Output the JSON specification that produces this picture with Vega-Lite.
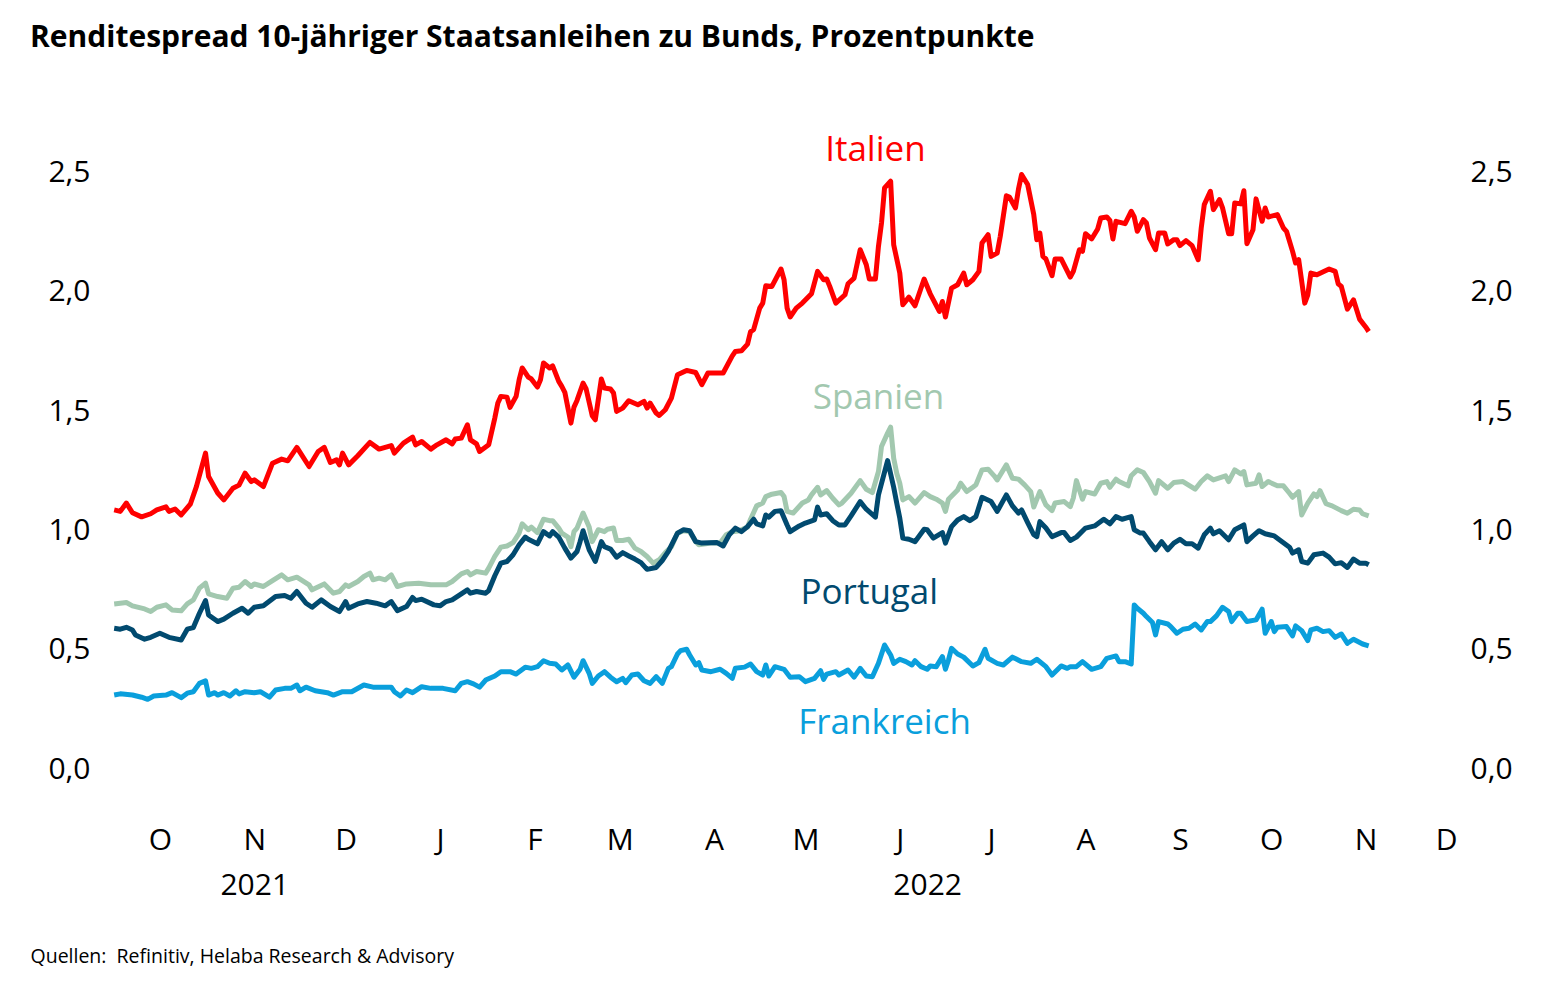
{
"$schema": "https://vega.github.io/schema/vega-lite/v6.json",
"width": 1355,
"height": 656,
"autosize": {"type": "none"},
"padding": {"left": 102, "top": 113, "right": 88, "bottom": 223},
"background": "white",
"config": {"view": {"stroke": null}, "font": "Open Sans", "axis": {"grid": false, "domain": false, "ticks": false, "tickSize": 0, "labelFont": "Open Sans", "labelFontSize": 30, "labelColor": "#000000"}},
"title": {"text": "Renditespread 10-jähriger Staatsanleihen zu Bunds, Prozentpunkte", "anchor": "start", "frame": "group", "dx": -72, "offset": 36, "baseline": "alphabetic", "fontSize": 30, "fontWeight": "bold", "font": "Open Sans", "color": "#000000"},
"datasets": {
"it": [
{"d":"2021-09-16","v":1.086},{"d":"2021-09-18","v":1.08},{"d":"2021-09-20","v":1.115},{"d":"2021-09-22","v":1.074},{"d":"2021-09-25","v":1.057},{"d":"2021-09-28","v":1.07},{"d":"2021-09-30","v":1.086},{"d":"2021-10-03","v":1.099},{"d":"2021-10-04","v":1.08},{"d":"2021-10-06","v":1.09},{"d":"2021-10-08","v":1.065},{"d":"2021-10-11","v":1.11},{"d":"2021-10-13","v":1.184},{"d":"2021-10-16","v":1.324},{"d":"2021-10-17","v":1.226},{"d":"2021-10-20","v":1.157},{"d":"2021-10-22","v":1.128},{"d":"2021-10-25","v":1.177},{"d":"2021-10-27","v":1.19},{"d":"2021-10-29","v":1.24},{"d":"2021-10-31","v":1.205},{"d":"2021-11-01","v":1.212},{"d":"2021-11-04","v":1.184},{"d":"2021-11-07","v":1.282},{"d":"2021-11-10","v":1.299},{"d":"2021-11-12","v":1.292},{"d":"2021-11-15","v":1.348},{"d":"2021-11-19","v":1.268},{"d":"2021-11-22","v":1.331},{"d":"2021-11-24","v":1.348},{"d":"2021-11-26","v":1.285},{"d":"2021-11-28","v":1.296},{"d":"2021-11-29","v":1.275},{"d":"2021-11-30","v":1.324},{"d":"2021-12-02","v":1.275},{"d":"2021-12-05","v":1.313},{"d":"2021-12-09","v":1.369},{"d":"2021-12-12","v":1.341},{"d":"2021-12-16","v":1.356},{"d":"2021-12-17","v":1.324},{"d":"2021-12-20","v":1.366},{"d":"2021-12-23","v":1.391},{"d":"2021-12-24","v":1.359},{"d":"2021-12-26","v":1.373},{"d":"2021-12-29","v":1.341},{"d":"2021-12-31","v":1.359},
{"d":"2022-01-03","v":1.38},{"d":"2022-01-05","v":1.363},{"d":"2022-01-06","v":1.383},{"d":"2022-01-08","v":1.387},{"d":"2022-01-10","v":1.443},{"d":"2022-01-11","v":1.38},{"d":"2022-01-13","v":1.363},{"d":"2022-01-14","v":1.331},{"d":"2022-01-17","v":1.359},{"d":"2022-01-19","v":1.471},{"d":"2022-01-20","v":1.534},{"d":"2022-01-21","v":1.562},{"d":"2022-01-23","v":1.559},{"d":"2022-01-24","v":1.516},{"d":"2022-01-26","v":1.562},{"d":"2022-01-27","v":1.632},{"d":"2022-01-28","v":1.681},{"d":"2022-01-30","v":1.643},{"d":"2022-01-31","v":1.635},
{"d":"2022-02-02","v":1.601},{"d":"2022-02-03","v":1.632},{"d":"2022-02-04","v":1.702},{"d":"2022-02-06","v":1.681},{"d":"2022-02-07","v":1.69},{"d":"2022-02-09","v":1.625},{"d":"2022-02-10","v":1.604},{"d":"2022-02-11","v":1.579},{"d":"2022-02-13","v":1.45},{"d":"2022-02-14","v":1.517},{"d":"2022-02-15","v":1.545},{"d":"2022-02-17","v":1.618},{"d":"2022-02-18","v":1.593},{"d":"2022-02-20","v":1.481},{"d":"2022-02-21","v":1.464},{"d":"2022-02-23","v":1.635},{"d":"2022-02-24","v":1.597},{"d":"2022-02-26","v":1.593},{"d":"2022-02-27","v":1.576},{"d":"2022-02-28","v":1.499},
{"d":"2022-03-02","v":1.513},{"d":"2022-03-04","v":1.544},{"d":"2022-03-07","v":1.527},{"d":"2022-03-09","v":1.541},{"d":"2022-03-10","v":1.513},{"d":"2022-03-11","v":1.534},{"d":"2022-03-13","v":1.492},{"d":"2022-03-14","v":1.482},{"d":"2022-03-16","v":1.506},{"d":"2022-03-18","v":1.555},{"d":"2022-03-20","v":1.653},{"d":"2022-03-23","v":1.671},{"d":"2022-03-26","v":1.662},{"d":"2022-03-28","v":1.611},{"d":"2022-03-30","v":1.66},
{"d":"2022-04-04","v":1.66},{"d":"2022-04-07","v":1.732},{"d":"2022-04-08","v":1.75},{"d":"2022-04-10","v":1.753},{"d":"2022-04-12","v":1.781},{"d":"2022-04-13","v":1.834},{"d":"2022-04-14","v":1.842},{"d":"2022-04-16","v":1.932},{"d":"2022-04-17","v":1.953},{"d":"2022-04-18","v":2.026},{"d":"2022-04-20","v":2.023},{"d":"2022-04-23","v":2.096},{"d":"2022-04-24","v":2.051},{"d":"2022-04-25","v":1.932},{"d":"2022-04-26","v":1.895},{"d":"2022-04-28","v":1.932},{"d":"2022-04-30","v":1.953},
{"d":"2022-05-03","v":1.992},{"d":"2022-05-05","v":2.086},{"d":"2022-05-07","v":2.051},{"d":"2022-05-08","v":2.054},{"d":"2022-05-09","v":2.023},{"d":"2022-05-11","v":1.953},{"d":"2022-05-14","v":1.988},{"d":"2022-05-15","v":2.034},{"d":"2022-05-17","v":2.058},{"d":"2022-05-19","v":2.177},{"d":"2022-05-21","v":2.114},{"d":"2022-05-22","v":2.054},{"d":"2022-05-24","v":2.054},{"d":"2022-05-25","v":2.191},{"d":"2022-05-26","v":2.289},{"d":"2022-05-27","v":2.436},{"d":"2022-05-29","v":2.464},{"d":"2022-05-30","v":2.198},
{"d":"2022-06-01","v":2.079},{"d":"2022-06-02","v":1.946},{"d":"2022-06-04","v":1.978},{"d":"2022-06-06","v":1.942},{"d":"2022-06-09","v":2.054},{"d":"2022-06-11","v":1.992},{"d":"2022-06-14","v":1.918},{"d":"2022-06-15","v":1.96},{"d":"2022-06-16","v":1.895},{"d":"2022-06-18","v":2.016},{"d":"2022-06-20","v":2.03},{"d":"2022-06-22","v":2.079},{"d":"2022-06-23","v":2.03},{"d":"2022-06-25","v":2.051},{"d":"2022-06-27","v":2.086},{"d":"2022-06-28","v":2.205},{"d":"2022-06-30","v":2.24},
{"d":"2022-07-01","v":2.149},{"d":"2022-07-03","v":2.163},{"d":"2022-07-04","v":2.233},{"d":"2022-07-06","v":2.403},{"d":"2022-07-07","v":2.398},{"d":"2022-07-09","v":2.352},{"d":"2022-07-10","v":2.432},{"d":"2022-07-11","v":2.492},{"d":"2022-07-13","v":2.45},{"d":"2022-07-15","v":2.324},{"d":"2022-07-16","v":2.219},{"d":"2022-07-17","v":2.247},{"d":"2022-07-18","v":2.149},{"d":"2022-07-19","v":2.138},{"d":"2022-07-21","v":2.068},{"d":"2022-07-22","v":2.138},{"d":"2022-07-24","v":2.138},{"d":"2022-07-27","v":2.062},{"d":"2022-07-28","v":2.086},{"d":"2022-07-30","v":2.177},{"d":"2022-07-31","v":2.17},
{"d":"2022-08-01","v":2.244},{"d":"2022-08-03","v":2.222},{"d":"2022-08-05","v":2.264},{"d":"2022-08-06","v":2.31},{"d":"2022-08-08","v":2.314},{"d":"2022-08-09","v":2.3},{"d":"2022-08-10","v":2.222},{"d":"2022-08-11","v":2.296},{"d":"2022-08-14","v":2.286},{"d":"2022-08-16","v":2.338},{"d":"2022-08-17","v":2.314},{"d":"2022-08-18","v":2.254},{"d":"2022-08-20","v":2.303},{"d":"2022-08-21","v":2.289},{"d":"2022-08-22","v":2.226},{"d":"2022-08-24","v":2.177},{"d":"2022-08-25","v":2.247},{"d":"2022-08-27","v":2.247},{"d":"2022-08-28","v":2.201},{"d":"2022-08-30","v":2.219},{"d":"2022-08-31","v":2.219},
{"d":"2022-09-01","v":2.194},{"d":"2022-09-03","v":2.215},{"d":"2022-09-05","v":2.194},{"d":"2022-09-07","v":2.135},{"d":"2022-09-08","v":2.268},{"d":"2022-09-09","v":2.366},{"d":"2022-09-11","v":2.422},{"d":"2022-09-12","v":2.345},{"d":"2022-09-14","v":2.387},{"d":"2022-09-15","v":2.352},{"d":"2022-09-17","v":2.244},{"d":"2022-09-18","v":2.244},{"d":"2022-09-19","v":2.373},{"d":"2022-09-21","v":2.369},{"d":"2022-09-22","v":2.424},{"d":"2022-09-23","v":2.202},{"d":"2022-09-25","v":2.261},{"d":"2022-09-26","v":2.39},{"d":"2022-09-28","v":2.296},{"d":"2022-09-29","v":2.352},{"d":"2022-09-30","v":2.314},
{"d":"2022-10-03","v":2.324},{"d":"2022-10-05","v":2.268},{"d":"2022-10-06","v":2.254},{"d":"2022-10-08","v":2.17},{"d":"2022-10-09","v":2.121},{"d":"2022-10-10","v":2.135},{"d":"2022-10-12","v":1.953},{"d":"2022-10-13","v":1.988},{"d":"2022-10-14","v":2.079},{"d":"2022-10-16","v":2.072},{"d":"2022-10-20","v":2.096},{"d":"2022-10-22","v":2.086},{"d":"2022-10-23","v":2.034},{"d":"2022-10-24","v":2.023},{"d":"2022-10-26","v":1.928},{"d":"2022-10-28","v":1.967},{"d":"2022-10-30","v":1.886},{"d":"2022-11-01","v":1.853},{"d":"2022-11-02","v":1.834}
],
"es": [
{"d":"2021-09-16","v":0.692},{"d":"2021-09-20","v":0.698},{"d":"2021-09-22","v":0.684},{"d":"2021-09-26","v":0.671},{"d":"2021-09-28","v":0.66},{"d":"2021-09-30","v":0.678},{"d":"2021-10-03","v":0.688},{"d":"2021-10-05","v":0.667},{"d":"2021-10-08","v":0.663},{"d":"2021-10-10","v":0.692},{"d":"2021-10-12","v":0.709},{"d":"2021-10-14","v":0.758},{"d":"2021-10-16","v":0.779},{"d":"2021-10-17","v":0.734},{"d":"2021-10-20","v":0.723},{"d":"2021-10-23","v":0.716},{"d":"2021-10-25","v":0.758},{"d":"2021-10-27","v":0.762},{"d":"2021-10-29","v":0.786},{"d":"2021-10-31","v":0.765},{"d":"2021-11-01","v":0.776},{"d":"2021-11-04","v":0.765},{"d":"2021-11-07","v":0.79},{"d":"2021-11-10","v":0.814},{"d":"2021-11-12","v":0.793},{"d":"2021-11-15","v":0.804},{"d":"2021-11-19","v":0.772},{"d":"2021-11-20","v":0.751},{"d":"2021-11-24","v":0.776},{"d":"2021-11-27","v":0.737},{"d":"2021-11-29","v":0.744},{"d":"2021-12-01","v":0.772},{"d":"2021-12-02","v":0.765},{"d":"2021-12-05","v":0.786},{"d":"2021-12-07","v":0.807},{"d":"2021-12-09","v":0.821},{"d":"2021-12-10","v":0.793},{"d":"2021-12-12","v":0.8},{"d":"2021-12-14","v":0.793},{"d":"2021-12-16","v":0.814},{"d":"2021-12-18","v":0.765},{"d":"2021-12-21","v":0.776},{"d":"2021-12-25","v":0.779},{"d":"2021-12-29","v":0.772},
{"d":"2022-01-03","v":0.772},{"d":"2022-01-05","v":0.786},{"d":"2022-01-08","v":0.818},{"d":"2022-01-10","v":0.828},{"d":"2022-01-11","v":0.814},{"d":"2022-01-13","v":0.828},{"d":"2022-01-16","v":0.821},{"d":"2022-01-17","v":0.842},{"d":"2022-01-19","v":0.891},{"d":"2022-01-21","v":0.93},{"d":"2022-01-23","v":0.935},{"d":"2022-01-25","v":0.949},{"d":"2022-01-27","v":0.989},{"d":"2022-01-28","v":1.028},{"d":"2022-01-30","v":1.003},{"d":"2022-01-31","v":1.014},
{"d":"2022-02-02","v":0.991},{"d":"2022-02-04","v":1.047},{"d":"2022-02-06","v":1.041},{"d":"2022-02-07","v":1.041},{"d":"2022-02-09","v":1.01},{"d":"2022-02-10","v":0.989},{"d":"2022-02-12","v":0.972},{"d":"2022-02-13","v":0.932},{"d":"2022-02-14","v":0.995},{"d":"2022-02-15","v":1.01},{"d":"2022-02-17","v":1.073},{"d":"2022-02-19","v":1.014},{"d":"2022-02-20","v":0.953},{"d":"2022-02-22","v":1.003},{"d":"2022-02-24","v":0.995},{"d":"2022-02-25","v":1.005},{"d":"2022-02-27","v":1.01},{"d":"2022-02-28","v":0.958},
{"d":"2022-03-02","v":0.958},{"d":"2022-03-04","v":0.963},{"d":"2022-03-06","v":0.926},{"d":"2022-03-08","v":0.912},{"d":"2022-03-10","v":0.891},{"d":"2022-03-12","v":0.863},{"d":"2022-03-14","v":0.877},{"d":"2022-03-16","v":0.907},{"d":"2022-03-18","v":0.932},{"d":"2022-03-20","v":0.989},{"d":"2022-03-22","v":0.999},{"d":"2022-03-24","v":0.995},{"d":"2022-03-26","v":0.953},{"d":"2022-03-27","v":0.94},{"d":"2022-03-31","v":0.947},
{"d":"2022-04-03","v":0.947},{"d":"2022-04-05","v":0.982},{"d":"2022-04-07","v":0.995},{"d":"2022-04-09","v":0.998},{"d":"2022-04-12","v":1.014},{"d":"2022-04-13","v":1.047},{"d":"2022-04-15","v":1.103},{"d":"2022-04-17","v":1.115},{"d":"2022-04-18","v":1.142},{"d":"2022-04-20","v":1.152},{"d":"2022-04-23","v":1.159},{"d":"2022-04-24","v":1.142},{"d":"2022-04-25","v":1.08},{"d":"2022-04-27","v":1.073},{"d":"2022-04-30","v":1.115},
{"d":"2022-05-02","v":1.128},{"d":"2022-05-03","v":1.149},{"d":"2022-05-05","v":1.181},{"d":"2022-05-06","v":1.149},{"d":"2022-05-08","v":1.167},{"d":"2022-05-10","v":1.135},{"d":"2022-05-12","v":1.107},{"d":"2022-05-13","v":1.115},{"d":"2022-05-16","v":1.156},{"d":"2022-05-19","v":1.209},{"d":"2022-05-21","v":1.173},{"d":"2022-05-23","v":1.159},{"d":"2022-05-25","v":1.247},{"d":"2022-05-26","v":1.352},{"d":"2022-05-28","v":1.408},{"d":"2022-05-29","v":1.433},{"d":"2022-05-30","v":1.303},{"d":"2022-05-31","v":1.24},
{"d":"2022-06-01","v":1.198},{"d":"2022-06-02","v":1.128},{"d":"2022-06-04","v":1.142},{"d":"2022-06-06","v":1.115},{"d":"2022-06-09","v":1.159},{"d":"2022-06-11","v":1.142},{"d":"2022-06-13","v":1.131},{"d":"2022-06-15","v":1.115},{"d":"2022-06-16","v":1.08},{"d":"2022-06-17","v":1.131},{"d":"2022-06-20","v":1.17},{"d":"2022-06-21","v":1.198},{"d":"2022-06-23","v":1.163},{"d":"2022-06-25","v":1.181},{"d":"2022-06-26","v":1.191},{"d":"2022-06-28","v":1.254},{"d":"2022-06-30","v":1.257},
{"d":"2022-07-02","v":1.229},{"d":"2022-07-03","v":1.212},{"d":"2022-07-06","v":1.275},{"d":"2022-07-08","v":1.219},{"d":"2022-07-10","v":1.215},{"d":"2022-07-12","v":1.191},{"d":"2022-07-14","v":1.163},{"d":"2022-07-15","v":1.098},{"d":"2022-07-17","v":1.163},{"d":"2022-07-19","v":1.107},{"d":"2022-07-21","v":1.083},{"d":"2022-07-22","v":1.115},{"d":"2022-07-25","v":1.121},{"d":"2022-07-27","v":1.1},{"d":"2022-07-28","v":1.136},{"d":"2022-07-29","v":1.209},{"d":"2022-07-31","v":1.131},
{"d":"2022-08-01","v":1.163},{"d":"2022-08-04","v":1.153},{"d":"2022-08-06","v":1.198},{"d":"2022-08-08","v":1.205},{"d":"2022-08-09","v":1.181},{"d":"2022-08-11","v":1.215},{"d":"2022-08-12","v":1.205},{"d":"2022-08-15","v":1.187},{"d":"2022-08-16","v":1.229},{"d":"2022-08-18","v":1.254},{"d":"2022-08-20","v":1.243},{"d":"2022-08-22","v":1.205},{"d":"2022-08-24","v":1.156},{"d":"2022-08-25","v":1.209},{"d":"2022-08-28","v":1.177},{"d":"2022-08-30","v":1.201},
{"d":"2022-09-02","v":1.205},{"d":"2022-09-06","v":1.173},{"d":"2022-09-08","v":1.205},{"d":"2022-09-10","v":1.229},{"d":"2022-09-12","v":1.212},{"d":"2022-09-16","v":1.229},{"d":"2022-09-17","v":1.205},{"d":"2022-09-19","v":1.254},{"d":"2022-09-21","v":1.237},{"d":"2022-09-22","v":1.247},{"d":"2022-09-23","v":1.191},{"d":"2022-09-26","v":1.198},{"d":"2022-09-27","v":1.233},{"d":"2022-09-28","v":1.184},{"d":"2022-09-30","v":1.205},
{"d":"2022-10-03","v":1.187},{"d":"2022-10-05","v":1.187},{"d":"2022-10-07","v":1.156},{"d":"2022-10-08","v":1.139},{"d":"2022-10-10","v":1.163},{"d":"2022-10-11","v":1.065},{"d":"2022-10-13","v":1.115},{"d":"2022-10-15","v":1.153},{"d":"2022-10-16","v":1.142},{"d":"2022-10-17","v":1.167},{"d":"2022-10-19","v":1.112},{"d":"2022-10-21","v":1.103},{"d":"2022-10-24","v":1.083},{"d":"2022-10-26","v":1.072},{"d":"2022-10-28","v":1.089},{"d":"2022-10-30","v":1.086},{"d":"2022-10-31","v":1.07},{"d":"2022-11-02","v":1.061}
],
"pt": [
{"d":"2021-09-16","v":0.59},{"d":"2021-09-18","v":0.586},{"d":"2021-09-20","v":0.594},{"d":"2021-09-22","v":0.583},{"d":"2021-09-23","v":0.562},{"d":"2021-09-26","v":0.544},{"d":"2021-09-28","v":0.552},{"d":"2021-10-01","v":0.569},{"d":"2021-10-04","v":0.552},{"d":"2021-10-08","v":0.541},{"d":"2021-10-10","v":0.586},{"d":"2021-10-12","v":0.593},{"d":"2021-10-14","v":0.653},{"d":"2021-10-16","v":0.706},{"d":"2021-10-17","v":0.646},{"d":"2021-10-20","v":0.618},{"d":"2021-10-22","v":0.628},{"d":"2021-10-25","v":0.653},{"d":"2021-10-28","v":0.674},{"d":"2021-10-30","v":0.653},{"d":"2021-11-01","v":0.678},{"d":"2021-11-04","v":0.684},{"d":"2021-11-08","v":0.723},{"d":"2021-11-11","v":0.727},{"d":"2021-11-13","v":0.716},{"d":"2021-11-15","v":0.744},{"d":"2021-11-18","v":0.695},{"d":"2021-11-20","v":0.678},{"d":"2021-11-23","v":0.709},{"d":"2021-11-26","v":0.681},{"d":"2021-11-29","v":0.66},{"d":"2021-12-01","v":0.702},{"d":"2021-12-02","v":0.674},{"d":"2021-12-05","v":0.692},{"d":"2021-12-08","v":0.702},{"d":"2021-12-11","v":0.695},{"d":"2021-12-14","v":0.684},{"d":"2021-12-16","v":0.702},{"d":"2021-12-18","v":0.664},{"d":"2021-12-21","v":0.681},{"d":"2021-12-23","v":0.719},{"d":"2021-12-24","v":0.706},{"d":"2021-12-26","v":0.712},{"d":"2021-12-30","v":0.688},
{"d":"2022-01-01","v":0.684},{"d":"2022-01-03","v":0.702},{"d":"2022-01-05","v":0.709},{"d":"2022-01-08","v":0.734},{"d":"2022-01-10","v":0.751},{"d":"2022-01-11","v":0.737},{"d":"2022-01-13","v":0.744},{"d":"2022-01-16","v":0.737},{"d":"2022-01-17","v":0.748},{"d":"2022-01-19","v":0.81},{"d":"2022-01-21","v":0.863},{"d":"2022-01-23","v":0.87},{"d":"2022-01-25","v":0.898},{"d":"2022-01-27","v":0.94},{"d":"2022-01-29","v":0.972},{"d":"2022-01-30","v":0.963},
{"d":"2022-02-02","v":0.944},{"d":"2022-02-04","v":0.995},{"d":"2022-02-06","v":0.977},{"d":"2022-02-07","v":0.995},{"d":"2022-02-09","v":0.972},{"d":"2022-02-10","v":0.949},{"d":"2022-02-11","v":0.926},{"d":"2022-02-13","v":0.884},{"d":"2022-02-15","v":0.912},{"d":"2022-02-16","v":0.953},{"d":"2022-02-17","v":0.999},{"d":"2022-02-19","v":0.919},{"d":"2022-02-21","v":0.87},{"d":"2022-02-23","v":0.953},{"d":"2022-02-24","v":0.932},{"d":"2022-02-26","v":0.922},{"d":"2022-02-28","v":0.888},
{"d":"2022-03-02","v":0.907},{"d":"2022-03-04","v":0.893},{"d":"2022-03-06","v":0.88},{"d":"2022-03-08","v":0.865},{"d":"2022-03-10","v":0.837},{"d":"2022-03-13","v":0.845},{"d":"2022-03-15","v":0.874},{"d":"2022-03-17","v":0.912},{"d":"2022-03-20","v":0.989},{"d":"2022-03-22","v":1.003},{"d":"2022-03-24","v":0.999},{"d":"2022-03-26","v":0.953},{"d":"2022-03-28","v":0.947},
{"d":"2022-04-02","v":0.949},{"d":"2022-04-04","v":0.935},{"d":"2022-04-06","v":0.982},{"d":"2022-04-08","v":1.01},{"d":"2022-04-10","v":0.995},{"d":"2022-04-12","v":1.016},{"d":"2022-04-14","v":1.047},{"d":"2022-04-15","v":1.028},{"d":"2022-04-17","v":1.019},{"d":"2022-04-18","v":1.065},{"d":"2022-04-19","v":1.056},{"d":"2022-04-21","v":1.08},{"d":"2022-04-23","v":1.083},{"d":"2022-04-25","v":1.023},{"d":"2022-04-26","v":0.995},{"d":"2022-04-29","v":1.019},
{"d":"2022-05-01","v":1.031},{"d":"2022-05-04","v":1.044},{"d":"2022-05-05","v":1.098},{"d":"2022-05-06","v":1.065},{"d":"2022-05-08","v":1.07},{"d":"2022-05-10","v":1.041},{"d":"2022-05-12","v":1.023},{"d":"2022-05-14","v":1.023},{"d":"2022-05-16","v":1.061},{"d":"2022-05-19","v":1.121},{"d":"2022-05-21","v":1.089},{"d":"2022-05-24","v":1.056},{"d":"2022-05-25","v":1.149},{"d":"2022-05-28","v":1.293},{"d":"2022-05-30","v":1.181},{"d":"2022-05-31","v":1.115},
{"d":"2022-06-01","v":1.052},{"d":"2022-06-02","v":0.968},{"d":"2022-06-04","v":0.963},{"d":"2022-06-06","v":0.953},{"d":"2022-06-09","v":1.005},{"d":"2022-06-10","v":1.003},{"d":"2022-06-12","v":0.968},{"d":"2022-06-15","v":0.991},{"d":"2022-06-16","v":0.947},{"d":"2022-06-18","v":1.016},{"d":"2022-06-20","v":1.044},{"d":"2022-06-22","v":1.058},{"d":"2022-06-24","v":1.041},{"d":"2022-06-26","v":1.058},{"d":"2022-06-28","v":1.139},
{"d":"2022-07-01","v":1.121},{"d":"2022-07-03","v":1.08},{"d":"2022-07-06","v":1.149},{"d":"2022-07-08","v":1.103},{"d":"2022-07-10","v":1.073},{"d":"2022-07-11","v":1.086},{"d":"2022-07-13","v":1.033},{"d":"2022-07-15","v":0.982},{"d":"2022-07-16","v":0.974},{"d":"2022-07-17","v":1.037},{"d":"2022-07-19","v":1.01},{"d":"2022-07-21","v":0.974},{"d":"2022-07-24","v":0.991},{"d":"2022-07-25","v":0.991},{"d":"2022-07-27","v":0.958},{"d":"2022-07-29","v":0.972},
{"d":"2022-08-01","v":1.01},{"d":"2022-08-04","v":1.019},{"d":"2022-08-07","v":1.047},{"d":"2022-08-09","v":1.028},{"d":"2022-08-11","v":1.058},{"d":"2022-08-13","v":1.047},{"d":"2022-08-16","v":1.058},{"d":"2022-08-17","v":1.003},{"d":"2022-08-19","v":0.989},{"d":"2022-08-20","v":0.989},{"d":"2022-08-22","v":0.953},{"d":"2022-08-24","v":0.919},{"d":"2022-08-26","v":0.953},{"d":"2022-08-28","v":0.919},{"d":"2022-08-30","v":0.947},
{"d":"2022-09-01","v":0.963},{"d":"2022-09-03","v":0.944},{"d":"2022-09-05","v":0.944},{"d":"2022-09-07","v":0.926},{"d":"2022-09-09","v":0.982},{"d":"2022-09-11","v":1.01},{"d":"2022-09-12","v":0.986},{"d":"2022-09-14","v":0.999},{"d":"2022-09-17","v":0.961},{"d":"2022-09-19","v":1.003},{"d":"2022-09-22","v":1.023},{"d":"2022-09-23","v":0.953},{"d":"2022-09-25","v":0.977},{"d":"2022-09-27","v":0.999},{"d":"2022-09-29","v":0.986},
{"d":"2022-10-02","v":0.977},{"d":"2022-10-04","v":0.958},{"d":"2022-10-07","v":0.93},{"d":"2022-10-08","v":0.905},{"d":"2022-10-10","v":0.919},{"d":"2022-10-11","v":0.87},{"d":"2022-10-13","v":0.863},{"d":"2022-10-15","v":0.898},{"d":"2022-10-18","v":0.905},{"d":"2022-10-20","v":0.888},{"d":"2022-10-22","v":0.86},{"d":"2022-10-24","v":0.865},{"d":"2022-10-26","v":0.845},{"d":"2022-10-28","v":0.88},{"d":"2022-10-30","v":0.863},{"d":"2022-11-01","v":0.863},{"d":"2022-11-02","v":0.856}
],
"fr": [
{"d":"2021-09-16","v":0.31},{"d":"2021-09-18","v":0.315},{"d":"2021-09-22","v":0.31},{"d":"2021-09-25","v":0.301},{"d":"2021-09-27","v":0.292},{"d":"2021-09-29","v":0.306},{"d":"2021-10-03","v":0.31},{"d":"2021-10-05","v":0.32},{"d":"2021-10-08","v":0.299},{"d":"2021-10-10","v":0.318},{"d":"2021-10-12","v":0.324},{"d":"2021-10-14","v":0.359},{"d":"2021-10-16","v":0.37},{"d":"2021-10-17","v":0.31},{"d":"2021-10-19","v":0.32},{"d":"2021-10-20","v":0.31},{"d":"2021-10-22","v":0.32},{"d":"2021-10-24","v":0.306},{"d":"2021-10-26","v":0.328},{"d":"2021-10-27","v":0.315},{"d":"2021-10-29","v":0.324},{"d":"2021-11-01","v":0.32},{"d":"2021-11-03","v":0.324},{"d":"2021-11-06","v":0.301},{"d":"2021-11-08","v":0.331},{"d":"2021-11-11","v":0.338},{"d":"2021-11-13","v":0.338},{"d":"2021-11-15","v":0.352},{"d":"2021-11-16","v":0.328},{"d":"2021-11-18","v":0.343},{"d":"2021-11-21","v":0.328},{"d":"2021-11-25","v":0.32},{"d":"2021-11-27","v":0.31},{"d":"2021-11-30","v":0.324},{"d":"2021-12-03","v":0.324},{"d":"2021-12-07","v":0.352},{"d":"2021-12-10","v":0.343},{"d":"2021-12-16","v":0.343},{"d":"2021-12-17","v":0.324},{"d":"2021-12-19","v":0.306},{"d":"2021-12-21","v":0.331},{"d":"2021-12-23","v":0.32},{"d":"2021-12-26","v":0.345},{"d":"2021-12-29","v":0.338},
{"d":"2022-01-02","v":0.338},{"d":"2022-01-06","v":0.328},{"d":"2022-01-08","v":0.359},{"d":"2022-01-10","v":0.366},{"d":"2022-01-12","v":0.357},{"d":"2022-01-14","v":0.343},{"d":"2022-01-16","v":0.373},{"d":"2022-01-19","v":0.39},{"d":"2022-01-21","v":0.408},{"d":"2022-01-24","v":0.408},{"d":"2022-01-26","v":0.398},{"d":"2022-01-29","v":0.427},{"d":"2022-01-31","v":0.422},
{"d":"2022-02-02","v":0.429},{"d":"2022-02-04","v":0.454},{"d":"2022-02-06","v":0.443},{"d":"2022-02-08","v":0.44},{"d":"2022-02-10","v":0.415},{"d":"2022-02-12","v":0.436},{"d":"2022-02-14","v":0.385},{"d":"2022-02-16","v":0.418},{"d":"2022-02-17","v":0.454},{"d":"2022-02-19","v":0.401},{"d":"2022-02-20","v":0.359},{"d":"2022-02-22","v":0.39},{"d":"2022-02-24","v":0.408},{"d":"2022-02-26","v":0.385},{"d":"2022-02-28","v":0.366},
{"d":"2022-03-02","v":0.38},{"d":"2022-03-03","v":0.362},{"d":"2022-03-05","v":0.394},{"d":"2022-03-07","v":0.398},{"d":"2022-03-09","v":0.37},{"d":"2022-03-11","v":0.359},{"d":"2022-03-13","v":0.387},{"d":"2022-03-15","v":0.359},{"d":"2022-03-17","v":0.422},{"d":"2022-03-18","v":0.429},{"d":"2022-03-20","v":0.482},{"d":"2022-03-21","v":0.496},{"d":"2022-03-23","v":0.502},{"d":"2022-03-24","v":0.478},{"d":"2022-03-26","v":0.436},{"d":"2022-03-27","v":0.446},{"d":"2022-03-28","v":0.415},{"d":"2022-03-31","v":0.408},
{"d":"2022-04-03","v":0.418},{"d":"2022-04-05","v":0.401},{"d":"2022-04-07","v":0.38},{"d":"2022-04-08","v":0.422},{"d":"2022-04-11","v":0.427},{"d":"2022-04-13","v":0.44},{"d":"2022-04-15","v":0.408},{"d":"2022-04-17","v":0.394},{"d":"2022-04-18","v":0.436},{"d":"2022-04-19","v":0.39},{"d":"2022-04-21","v":0.429},{"d":"2022-04-24","v":0.418},{"d":"2022-04-26","v":0.385},{"d":"2022-04-29","v":0.387},
{"d":"2022-05-01","v":0.366},{"d":"2022-05-04","v":0.38},{"d":"2022-05-06","v":0.412},{"d":"2022-05-07","v":0.376},{"d":"2022-05-08","v":0.398},{"d":"2022-05-11","v":0.408},{"d":"2022-05-12","v":0.394},{"d":"2022-05-15","v":0.415},{"d":"2022-05-17","v":0.385},{"d":"2022-05-19","v":0.422},{"d":"2022-05-21","v":0.39},{"d":"2022-05-23","v":0.387},{"d":"2022-05-25","v":0.443},{"d":"2022-05-27","v":0.52},{"d":"2022-05-29","v":0.478},{"d":"2022-05-30","v":0.443},
{"d":"2022-06-01","v":0.46},{"d":"2022-06-03","v":0.45},{"d":"2022-06-05","v":0.436},{"d":"2022-06-06","v":0.454},{"d":"2022-06-08","v":0.429},{"d":"2022-06-10","v":0.418},{"d":"2022-06-11","v":0.432},{"d":"2022-06-13","v":0.429},{"d":"2022-06-15","v":0.471},{"d":"2022-06-16","v":0.418},{"d":"2022-06-17","v":0.457},{"d":"2022-06-18","v":0.506},{"d":"2022-06-20","v":0.482},{"d":"2022-06-22","v":0.469},{"d":"2022-06-25","v":0.432},{"d":"2022-06-27","v":0.446},{"d":"2022-06-29","v":0.502},{"d":"2022-06-30","v":0.464},
{"d":"2022-07-03","v":0.443},{"d":"2022-07-05","v":0.436},{"d":"2022-07-08","v":0.469},{"d":"2022-07-11","v":0.45},{"d":"2022-07-14","v":0.443},{"d":"2022-07-16","v":0.46},{"d":"2022-07-19","v":0.429},{"d":"2022-07-21","v":0.394},{"d":"2022-07-24","v":0.432},{"d":"2022-07-26","v":0.422},{"d":"2022-07-27","v":0.429},{"d":"2022-07-29","v":0.429},{"d":"2022-07-31","v":0.45},
{"d":"2022-08-03","v":0.418},{"d":"2022-08-06","v":0.429},{"d":"2022-08-08","v":0.464},{"d":"2022-08-11","v":0.474},{"d":"2022-08-12","v":0.45},{"d":"2022-08-14","v":0.45},{"d":"2022-08-16","v":0.44},{"d":"2022-08-17","v":0.688},{"d":"2022-08-18","v":0.674},{"d":"2022-08-20","v":0.653},{"d":"2022-08-21","v":0.639},{"d":"2022-08-23","v":0.614},{"d":"2022-08-24","v":0.562},{"d":"2022-08-25","v":0.618},{"d":"2022-08-28","v":0.608},{"d":"2022-08-29","v":0.597},{"d":"2022-08-31","v":0.569},
{"d":"2022-09-02","v":0.586},{"d":"2022-09-04","v":0.59},{"d":"2022-09-06","v":0.608},{"d":"2022-09-08","v":0.583},{"d":"2022-09-10","v":0.618},{"d":"2022-09-11","v":0.618},{"d":"2022-09-13","v":0.642},{"d":"2022-09-15","v":0.678},{"d":"2022-09-17","v":0.66},{"d":"2022-09-18","v":0.618},{"d":"2022-09-20","v":0.653},{"d":"2022-09-21","v":0.653},{"d":"2022-09-23","v":0.618},{"d":"2022-09-26","v":0.625},{"d":"2022-09-28","v":0.67},{"d":"2022-09-29","v":0.569},
{"d":"2022-10-01","v":0.618},{"d":"2022-10-02","v":0.576},{"d":"2022-10-03","v":0.594},{"d":"2022-10-06","v":0.597},{"d":"2022-10-08","v":0.558},{"d":"2022-10-09","v":0.6},{"d":"2022-10-11","v":0.58},{"d":"2022-10-13","v":0.538},{"d":"2022-10-14","v":0.583},{"d":"2022-10-16","v":0.59},{"d":"2022-10-18","v":0.576},{"d":"2022-10-20","v":0.58},{"d":"2022-10-22","v":0.552},{"d":"2022-10-24","v":0.566},{"d":"2022-10-26","v":0.527},{"d":"2022-10-28","v":0.544},{"d":"2022-10-31","v":0.524},{"d":"2022-11-02","v":0.516}
],
"labels": [
{"d":"2022-05-24","v":2.596,"label":"Italien"},
{"d":"2022-05-25","v":1.556,"label":"Spanien"},
{"d":"2022-05-22","v":0.738,"label":"Portugal"},
{"d":"2022-05-27","v":0.193,"label":"Frankreich"}
]
},
"layer": [
{
"data": {"name": "it"},
"mark": {"type": "line", "color": "#FF0000", "strokeWidth": 5, "strokeJoin": "round"},
"encoding": {
"x": {"field": "d", "type": "temporal",
"scale": {"type": "utc", "nice": false, "domain": [{"year": 2021, "month": 9, "date": 12, "utc": true}, {"year": 2022, "month": 12, "date": 1, "utc": true}]},
"axis": {"orient": "bottom", "title": null, "labelPadding": 56, "labelFlush": true, "labelOverlap": false,
"values": [{"year":2021,"month":10,"date":1,"utc":true},{"year":2021,"month":11,"date":1,"utc":true},{"year":2021,"month":12,"date":1,"utc":true},{"year":2022,"month":1,"date":1,"utc":true},{"year":2022,"month":2,"date":1,"utc":true},{"year":2022,"month":3,"date":1,"utc":true},{"year":2022,"month":4,"date":1,"utc":true},{"year":2022,"month":5,"date":1,"utc":true},{"year":2022,"month":6,"date":1,"utc":true},{"year":2022,"month":7,"date":1,"utc":true},{"year":2022,"month":8,"date":1,"utc":true},{"year":2022,"month":9,"date":1,"utc":true},{"year":2022,"month":10,"date":1,"utc":true},{"year":2022,"month":11,"date":1,"utc":true},{"year":2022,"month":12,"date":1,"utc":true}],
"labelExpr": "substring(utcFormat(datum.value, '%B'), 0, 1)"}},
"y": {"field": "v", "type": "quantitative",
"scale": {"domain": [0, 2.75], "nice": false, "zero": true},
"axis": {"orient": "left", "title": null, "labelPadding": 12, "labelFlush": false, "values": [0, 0.5, 1, 1.5, 2, 2.5], "labelExpr": "replace(format(datum.value, '.1f'), '.', ',')"}}
}
},
{
"data": {"name": "es"},
"mark": {"type": "line", "color": "#A2C8AF", "strokeWidth": 5, "strokeJoin": "round"},
"encoding": {
"x": {"field": "d", "type": "temporal", "axis": null},
"y": {"field": "v", "type": "quantitative", "axis": null}
}
},
{
"data": {"name": "pt"},
"mark": {"type": "line", "color": "#014A6F", "strokeWidth": 5, "strokeJoin": "round"},
"encoding": {
"x": {"field": "d", "type": "temporal", "axis": null},
"y": {"field": "v", "type": "quantitative", "axis": null}
}
},
{
"data": {"name": "fr"},
"mark": {"type": "line", "color": "#0A9FDC", "strokeWidth": 5, "strokeJoin": "round"},
"encoding": {
"x": {"field": "d", "type": "temporal", "axis": null},
"y": {"field": "v", "type": "quantitative", "axis": null}
}
},
{
"data": {"name": "labels"},
"mark": {"type": "text", "fontSize": 35, "font": "Open Sans", "baseline": "middle", "align": "center"},
"encoding": {
"x": {"field": "d", "type": "temporal",
"scale": {"type": "utc", "nice": false, "domain": [{"year": 2021, "month": 9, "date": 12, "utc": true}, {"year": 2022, "month": 12, "date": 1, "utc": true}]},
"axis": {"orient": "bottom", "labelPadding": 101, "labelFlush": false, "labelOverlap": false,
"values": [{"year":2021,"month":11,"date":1,"utc":true},{"year":2022,"month":6,"date":10,"utc":true}],
"labelExpr": "utcFormat(datum.value, '%Y')",
"title": "Quellen:\u00a0 Refinitiv, Helaba Research & Advisory", "titleX": -72, "titleY": 187, "titleAnchor": "start", "titleAlign": "left", "titleBaseline": "middle", "titleFontSize": 19.5, "titleFontWeight": "normal", "titleFont": "Open Sans", "titleColor": "#000000"}},
"y": {"field": "v", "type": "quantitative",
"scale": {"domain": [0, 2.75], "nice": false, "zero": true},
"axis": {"orient": "right", "title": null, "labelPadding": 13, "labelFlush": false, "values": [0, 0.5, 1, 1.5, 2, 2.5], "labelExpr": "replace(format(datum.value, '.1f'), '.', ',')"}},
"text": {"field": "label"},
"color": {"field": "label", "type": "nominal", "legend": null,
"scale": {"domain": ["Italien", "Spanien", "Portugal", "Frankreich"], "range": ["#FF0000", "#A2C8AF", "#014A6F", "#0A9FDC"]}}
}
}
],
"resolve": {"axis": {"x": "independent", "y": "independent"}}
}
